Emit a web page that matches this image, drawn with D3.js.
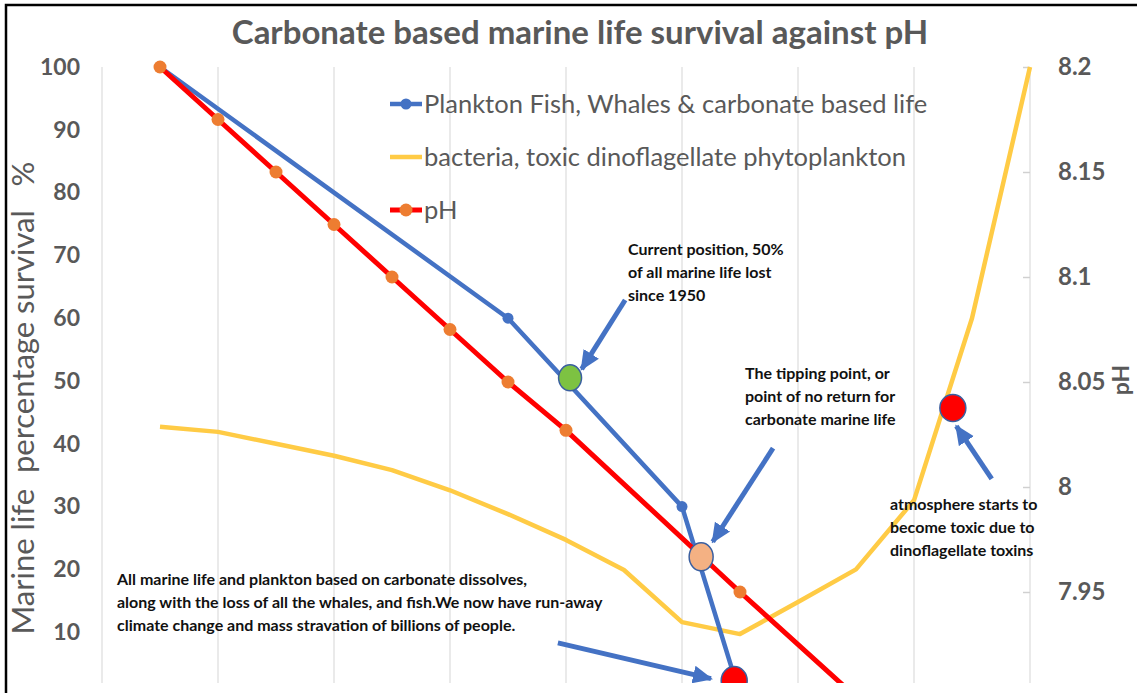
<!DOCTYPE html>
<html>
<head>
<meta charset="utf-8">
<script src="https://d3js.org/d3.v7.min.js"></script>
<style>
  body { margin: 0; background: #fff; }
  text { font-family: Lato, "Open Sans", sans-serif; }
</style>
</head>
<body>
<div id="chart"></div>
<script>
var w = 1137;
var h = 693;

// series data (x = step along the horizontal axis)
var planktonX = [1, 7, 10, 11];
var planktonVals = [100, 60, 30, 0];

var bacteriaX = [1, 2, 3, 4, 5, 6, 7, 8, 9, 10, 11, 12, 13, 14, 15, 16];
var bacteriaVals = [42.7, 41.9, 40.0, 38.1, 35.8, 32.6, 28.8, 24.7, 19.9, 11.6, 9.7, 14.8, 20, 31, 60, 100];

var phX = [1, 2, 3, 4, 5, 6, 7, 8, 11, 13];
var phVals = [8.2, 8.175, 8.15, 8.125, 8.1, 8.075, 8.05, 8.027, 7.95, 7.9];

var leftTicks = [10, 20, 30, 40, 50, 60, 70, 80, 90, 100];
var rightTicks = [7.95, 8, 8.05, 8.1, 8.15, 8.2];
var gridX = [0, 2, 4, 6, 8, 10, 12, 14, 16];

var seriesNames = ["Plankton Fish, Whales & carbonate based life",
                   "bacteria, toxic dinoflagellate phytoplankton",
                   "pH"];

var blue = "#4472C4", yellow = "#FFCB45", red = "#FF0000", orange = "#ED7D31";
var grey = "#595959", gridCol = "#E3E3E3";

var x = d3.scaleLinear().domain([0, 16]).range([102, 1030]);
var yL = d3.scaleLinear().domain([0, 100]).range([695, 67]);
var yR = d3.scaleLinear().domain([7.9, 8.2]).range([697, 67]);

var svg = d3.select("#chart").append("svg")
    .attr("width", w)
    .attr("height", h);

var defs = svg.append("defs");
defs.append("clipPath")
    .attr("id", "plotclip")
    .append("rect")
    .attr("x", 60).attr("y", 40)
    .attr("width", 1000).attr("height", 643);

defs.append("marker")
    .attr("id", "arrow")
    .attr("markerUnits", "userSpaceOnUse")
    .attr("viewBox", "0 0 20 20")
    .attr("refX", 18).attr("refY", 10)
    .attr("markerWidth", 20).attr("markerHeight", 20)
    .attr("orient", "auto")
    .append("path")
    .attr("d", "M0,1 L20,10 L0,19 Z")
    .attr("fill", blue);

// frame
svg.append("path")
    .attr("d", "M6," + h + " L6,5 L" + w + ",5")
    .attr("fill", "none")
    .attr("stroke", "#000")
    .attr("stroke-width", 2.5);

// title
svg.append("text")
    .attr("x", 580).attr("y", 44)
    .attr("text-anchor", "middle")
    .attr("font-size", "33px")
    .attr("font-weight", "bold")
    .attr("fill", grey)
    .text("Carbonate based marine life survival against pH");

// vertical gridlines
svg.append("g").selectAll("line")
    .data(gridX)
    .enter()
    .append("line")
    .attr("x1", function (d) { return x(d); })
    .attr("x2", function (d) { return x(d); })
    .attr("y1", 67)
    .attr("y2", 683)
    .attr("stroke", gridCol)
    .attr("stroke-width", 1.5);

// left axis
var axL = svg.append("g")
    .attr("transform", "translate(" + x(0) + ",0)")
    .call(d3.axisLeft(yL).tickValues(leftTicks).tickSize(0).tickPadding(22));
axL.select(".domain").remove();
axL.selectAll("text")
    .attr("font-size", "23px")
    .attr("font-weight", "bold")
    .attr("fill", grey)
    .style("font-family", "Lato, sans-serif");

// right axis
var axR = svg.append("g")
    .attr("transform", "translate(" + x(16) + ",0)")
    .call(d3.axisRight(yR).tickValues(rightTicks).tickSize(-7).tickPadding(28)
        .tickFormat(function (d) { return String(+d.toFixed(2)); }));
axR.select(".domain").remove();
axR.selectAll("line").attr("stroke", "#D0D0D0").attr("stroke-width", 1.5);
axR.selectAll("text")
    .attr("font-size", "24px")
    .attr("font-weight", "bold")
    .attr("fill", grey)
    .style("font-family", "Lato, sans-serif");

// axis titles
svg.append("text")
    .attr("transform", "translate(34,398) rotate(-90)")
    .attr("text-anchor", "middle")
    .attr("font-size", "31px")
    .attr("fill", grey)
    .style("white-space", "pre")
    .text("Marine life  percentage survival   %");

svg.append("text")
    .attr("transform", "translate(1129,380) rotate(-90)")
    .attr("text-anchor", "middle")
    .attr("font-size", "23px")
    .attr("font-weight", "bold")
    .attr("fill", grey)
    .text("pH");

var plot = svg.append("g").attr("clip-path", "url(#plotclip)");

var lineL = d3.line()
    .x(function (d) { return x(d[0]); })
    .y(function (d) { return yL(d[1]); });
var lineR = d3.line()
    .x(function (d) { return x(d[0]); })
    .y(function (d) { return yR(d[1]); });

var bacteria = d3.zip(bacteriaX, bacteriaVals);
var plankton = d3.zip(planktonX, planktonVals);
var ph = d3.zip(phX, phVals);

plot.append("path")
    .attr("d", lineL(bacteria))
    .attr("fill", "none")
    .attr("stroke", yellow)
    .attr("stroke-width", 4.5)
    .attr("stroke-linejoin", "round");

plot.append("path")
    .attr("d", lineL(plankton))
    .attr("fill", "none")
    .attr("stroke", blue)
    .attr("stroke-width", 4.5)
    .attr("stroke-linejoin", "round");

plot.selectAll(".pm")
    .data(plankton)
    .enter()
    .append("circle")
    .attr("class", "pm")
    .attr("cx", function (d) { return x(d[0]); })
    .attr("cy", function (d) { return yL(d[1]); })
    .attr("r", 5.5)
    .attr("fill", blue);

plot.append("path")
    .attr("d", lineR(ph))
    .attr("fill", "none")
    .attr("stroke", red)
    .attr("stroke-width", 5)
    .attr("stroke-linejoin", "round");

plot.selectAll(".phm")
    .data(ph)
    .enter()
    .append("circle")
    .attr("class", "phm")
    .attr("cx", function (d) { return x(d[0]); })
    .attr("cy", function (d) { return yR(d[1]); })
    .attr("r", 6.5)
    .attr("fill", orange);

// annotation shapes (in data units, left axis)
var spots = [
    { x: 8.07, v: 50.5, rx: 11.5, ry: 13, fill: "#7DC242" },
    { x: 10.33, v: 22, rx: 12, ry: 14, fill: "#F4B183" },
    { x: 14.67, v: 45.7, rx: 13, ry: 13.5, fill: "#FF0000" },
    { x: 10.9, v: 2.3, rx: 13, ry: 14, fill: "#FF0000" }
];
var arrows = [
    { x1: 9.02, v1: 62.9, x2: 8.27, v2: 51.9 },
    { x1: 11.57, v1: 39.3, x2: 10.53, v2: 24.4 },
    { x1: 7.86, v1: 8.3, x2: 10.5, v2: 2.6 },
    { x1: 15.34, v1: 34.4, x2: 14.73, v2: 42.8 }
];

plot.selectAll(".arr")
    .data(arrows)
    .enter()
    .append("line")
    .attr("class", "arr")
    .attr("x1", function (d) { return x(d.x1); })
    .attr("y1", function (d) { return yL(d.v1); })
    .attr("x2", function (d) { return x(d.x2); })
    .attr("y2", function (d) { return yL(d.v2); })
    .attr("stroke", blue)
    .attr("stroke-width", 5)
    .attr("marker-end", "url(#arrow)");

plot.selectAll(".spot")
    .data(spots)
    .enter()
    .append("ellipse")
    .attr("class", "spot")
    .attr("cx", function (d) { return x(d.x); })
    .attr("cy", function (d) { return yL(d.v); })
    .attr("rx", function (d) { return d.rx; })
    .attr("ry", function (d) { return d.ry; })
    .attr("fill", function (d) { return d.fill; })
    .attr("stroke", "#3A5FA0")
    .attr("stroke-width", 1.5);

// annotation texts
var notes = [
    { x: 628, y: 255, lines: ["Current position, 50%", "of all marine life lost", "since 1950"] },
    { x: 745, y: 379, lines: ["The tipping point, or", "point of no return for", "carbonate marine life"] },
    { x: 890, y: 510, lines: ["atmosphere starts to", "become toxic due to", "dinoflagellate toxins"] },
    { x: 117, y: 585, lines: ["All marine life and plankton based on carbonate dissolves,",
        "along with the loss of all the whales, and fish.We now have run-away",
        "climate change and mass stravation of billions of people."] }
];

var nt = svg.selectAll(".note")
    .data(notes)
    .enter()
    .append("text")
    .attr("class", "note")
    .attr("font-size", "16px")
    .attr("font-weight", "bold")
    .attr("fill", "#111");
nt.selectAll("tspan")
    .data(function (d) { return d.lines.map(function (l, i) { return { t: l, x: d.x, y: d.y + i * 23 }; }); })
    .enter()
    .append("tspan")
    .attr("x", function (d) { return d.x; })
    .attr("y", function (d) { return d.y; })
    .text(function (d) { return d.t; });

// legend
var legend = svg.append("g");
var legendY = [104, 157, 210];
var lg = legend.selectAll("g")
    .data(seriesNames)
    .enter()
    .append("g")
    .attr("transform", function (d, i) { return "translate(390," + legendY[i] + ")"; });

lg.append("line")
    .attr("x1", 0).attr("x2", 32)
    .attr("stroke", function (d, i) { return [blue, yellow, red][i]; })
    .attr("stroke-width", function (d, i) { return i == 2 ? 5 : 4.5; });
lg.filter(function (d, i) { return i != 1; })
    .append("circle")
    .attr("cx", 16)
    .attr("r", function (d, i) { return i == 0 ? 5.5 : 6.5; })
    .attr("fill", function (d, i) { return i == 0 ? blue : orange; });
lg.append("text")
    .attr("x", 34)
    .attr("dy", "0.35em")
    .attr("font-size", "25.5px")
    .attr("fill", grey)
    .text(function (d) { return d; });
</script>
</body>
</html>
